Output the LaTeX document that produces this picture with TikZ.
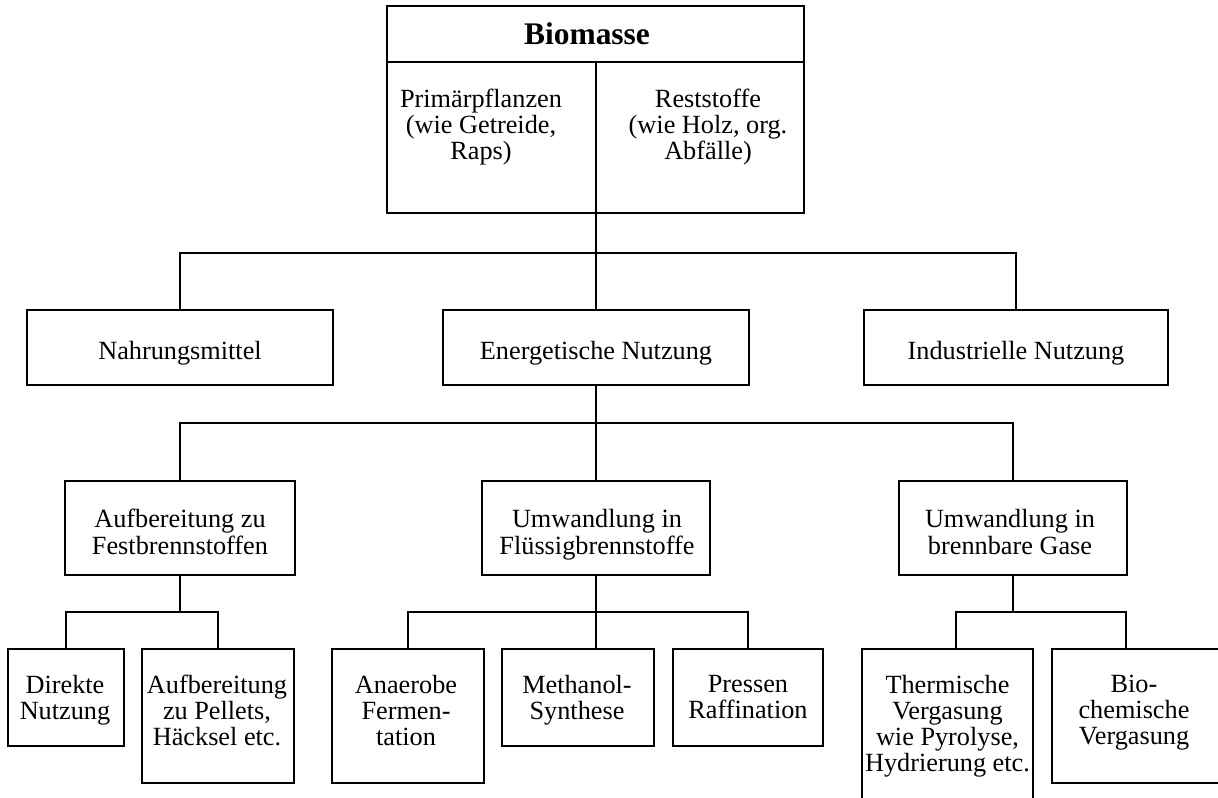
\documentclass[tikz,border=0pt]{standalone}
\usepackage{fontspec}
\setmainfont{Liberation Serif}
\usetikzlibrary{calc}
\tikzset{
  box/.style 2 args={draw, line width=1.4pt, inner sep=0pt, outer sep=0pt, anchor=north west,
    minimum width=#1*0.75pt, minimum height=#2*0.75pt},
  txt/.style={anchor=north, yshift=13.7pt, align=center, inner sep=0pt,
    font=\fontsize{19.7}{19.5}\selectfont, execute at begin node={\rule{0pt}{16pt}}},
  txtb/.style={txt, font=\fontsize{19.7}{20.5}\selectfont},
  ttl/.style={anchor=base, inner sep=0pt, font=\fontsize{23.6}{26}\selectfont\bfseries},
  conn/.style={line width=1.4pt},
}
\begin{document}
\begin{tikzpicture}[x=0.75pt,y=-0.75pt]
\useasboundingbox (0,0) rectangle (1218,798);
\clip (0,0) rectangle (1218,798);
% top box
\node[box={417}{207}] (bio) at (387,6) {};
\coordinate (hdr) at (0,62);
\coordinate (div) at (596,62);
\draw[conn] (bio.west |- hdr) -- (bio.east |- hdr);
\draw[conn] (div) -- (div |- bio.south);
\node[ttl] (title) at (587,45) {Biomasse};
\node[txt] (prim) at (481,107) {Primärpflanzen\\(wie Getreide,\\Raps)};
\node[txt] (rest) at (708,107) {Reststoffe\\(wie Holz, org.\\Abfälle)};
% row 2
\node[box={306}{75}] (nah) at (27,310) {};
\node[box={306}{75}] (ene) at (443,310) {};
\node[box={304}{75}] (ind) at (864,310) {};
\node[txt] (tnah) at (180,356) {Nahrungsmittel};
\node[txt] (tene) at (596,356) {Energetische Nutzung};
\node[txt] (tind) at (1016,356) {Industrielle Nutzung};
\coordinate (bus1) at (0,253);
\draw[conn] (div |- bio.south) -- (div |- bus1);
\draw[conn] (nah.north) |- (ind.north |- bus1) -- (ind.north);
\draw[conn] (ene.north) -- (ene.north |- bus1);
% row 3
\node[box={230}{94}] (fest) at (65,481) {};
\node[box={228}{94}] (flu) at (482,481) {};
\node[box={228}{94}] (gas) at (899,481) {};
\node[txtb] (tfest) at (180,527) {Aufbereitung zu\\Festbrennstoffen};
\node[txtb] (tflu) at (597,527) {Umwandlung in\\Flüssigbrennstoffe};
\node[txtb] (tgas) at (1010,527) {Umwandlung in\\brennbare Gase};
\coordinate (bus2) at (0,423);
\draw[conn] (ene.south) -- (ene.south |- bus2);
\draw[conn] (fest.north) |- (gas.north |- bus2) -- (gas.north);
\draw[conn] (flu.north) -- (flu.north |- bus2);
% row 4
\node[box={116}{97}] (dir) at (8,649) {};
\node[box={152}{134}] (pel) at (142,649) {};
\node[box={152}{134}] (ana) at (332,649) {};
\node[box={152}{97}] (met) at (502,649) {};
\node[box={150}{97}] (pre) at (673,649) {};
\node[box={171}{170}] (the) at (862,649) {};
\node[box={172}{134}] (bch) at (1052,649) {};
\node[txt] (tdir) at (65,693) {Direkte\\Nutzung};
\node[txt] (tpel) at (217,693) {Aufbereitung\\zu Pellets,\\Häcksel etc.};
\node[txt] (tana) at (406,693) {Anaerobe\\Fermen-\\tation};
\node[txt] (tmet) at (577,693) {Methanol-\\Synthese};
\node[txt] (tpre) at (748,693) {Pressen\\Raffination};
\node[txt] (tthe) at (947.5,693) {Thermische\\Vergasung\\wie Pyrolyse,\\Hydrierung etc.};
\node[txt] (tbch) at (1134,693) {Bio-\\chemische\\Vergasung};
\coordinate (bus3) at (0,612);
% Festbrennstoffe children
\draw[conn] (fest.south) -- (fest.south |- bus3);
\draw[conn] (dir.north) |- (pel.north |- bus3) -- (pel.north);
% Fluessigbrennstoffe children
\draw[conn] (flu.south) -- (flu.south |- met.north);
\draw[conn] (ana.north) |- (pre.north |- bus3) -- (pre.north);
% Gase children
\coordinate (thd) at ($(the.north)+(8.5,0)$);
\coordinate (bcd) at ($(bch.north)+(-12,0)$);
\draw[conn] (gas.south) -- (gas.south |- bus3);
\draw[conn] (thd) |- (bcd |- bus3) -- (bcd);
\end{tikzpicture}
\end{document}
